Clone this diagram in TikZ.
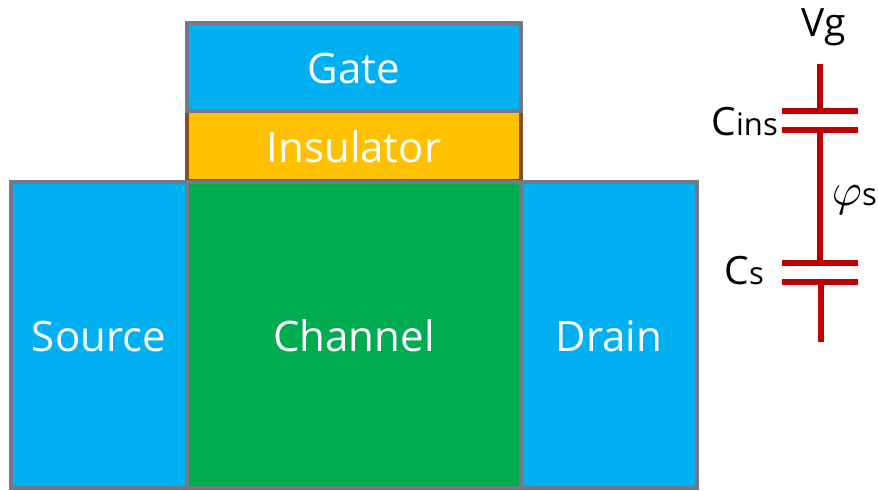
\documentclass[tikz,border=0pt]{standalone}
\usepackage{fontspec}
\setmainfont{Open Sans}
\usepackage{tikz}
\definecolor{blueFill}{HTML}{00B0F0}
\definecolor{greenFill}{HTML}{00AC50}
\definecolor{orangeFill}{HTML}{FFC000}
\definecolor{edgeGray}{HTML}{6F7B87}
\definecolor{edgeBrown}{HTML}{8B4C2A}
\definecolor{capRed}{HTML}{C00000}
\tikzset{
  region/.style={draw=edgeGray,line width=3.5pt,text=white,font=\fontsize{42}{42}\selectfont,inner sep=0pt,outer sep=0pt,text height=34pt,anchor=south west},
  plate/.style={draw=capRed,line width=6pt},
  lbl/.style={text=black,inner sep=0pt,font=\fontsize{39}{39}\selectfont}
}
\newcommand{\lblsub}[1]{{\fontsize{31}{31}\selectfont #1}}
\newcommand{\lblphi}{\scalebox{4.6}{\normalsize$\varphi$}}
\begin{document}
\begin{tikzpicture}[x=1pt,y=-1pt]
  \useasboundingbox (0,0) rectangle (878,490);
  \node[region,draw=edgeBrown,fill=orangeFill,minimum width=334pt,minimum height=70pt] (I) at (187,181) {Insulator};
  \node[region,fill=blueFill,minimum width=334pt,minimum height=88pt] (G) at (187,111) {Gate};
  \node[region,fill=blueFill,minimum width=176pt,minimum height=306pt] (S) at (11,488) {Source};
  \node[region,fill=blueFill,minimum width=176pt,minimum height=306pt] (D) at (521,488) {Drain};
  \node[region,fill=greenFill,minimum width=334pt,minimum height=306pt] (C) at (187,488) {Channel};
  \coordinate (top) at (820,64);
  \coordinate (p1) at (820,111);
  \coordinate (p2) at (820,130);
  \coordinate (p3) at (820,263);
  \coordinate (p4) at (821,282);
  \coordinate (bot) at (821,342);
  \draw[plate] (top) -- (p1);
  \draw[plate] (p2) -- (p3);
  \draw[plate] (p4) -- (bot);
  \draw[plate] (782,111) -- (858,111);
  \draw[plate] (782,130) -- (858,130);
  \draw[plate] (782,263) -- (858,263);
  \draw[plate] (782,282) -- (858,282);
  \node[lbl] (Vg) at (824,27) {Vg};
  \node[lbl,anchor=east] (Cins) at (778,122) {C\lblsub{ins}};
  \node[lbl,anchor=east] (phi) at (877,200) {\lblphi\lblsub{s}};
  \node[lbl,anchor=east] (Cs) at (764,271) {C\lblsub{s}};
\end{tikzpicture}
\end{document}
